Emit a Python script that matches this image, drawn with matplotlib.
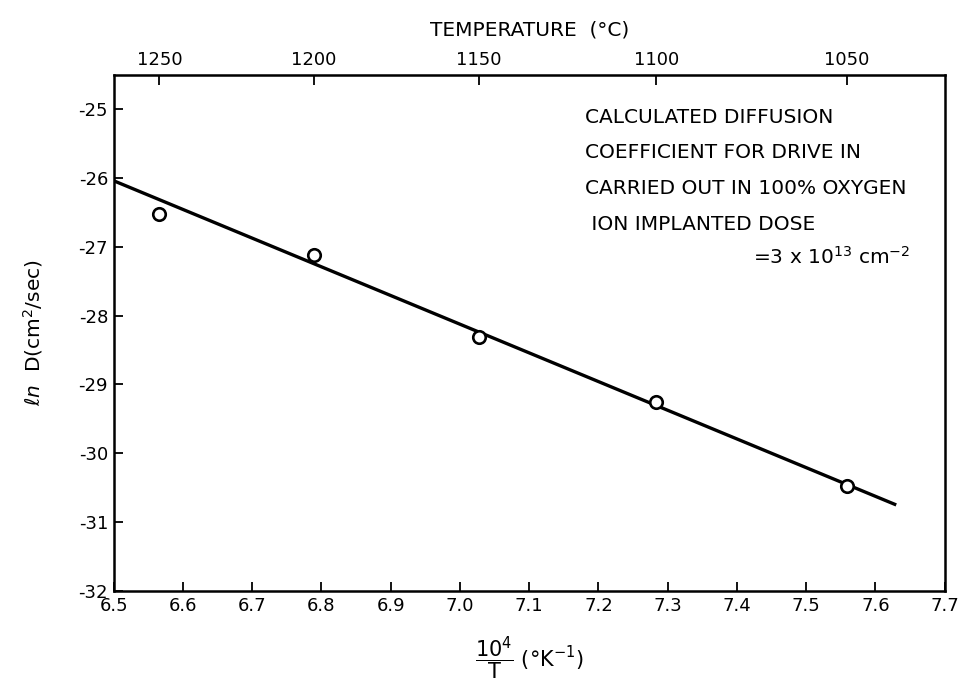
import matplotlib
matplotlib.use('Agg')
import matplotlib.pyplot as plt

# measured diffusion coefficients vs reciprocal temperature
inv_T = [6.566, 6.789, 7.027, 7.283, 7.559]          # 10^4/T  (1/K)
ln_D = [-26.53, -27.12, -28.31, -29.25, -30.48]      # ln D (cm^2/sec)

# least-squares line through the points, drawn between its end values
fit_x = [6.50, 7.63]
fit_y = [-26.04, -30.75]

x_ticks = [6.5, 6.6, 6.7, 6.8, 6.9, 7.0, 7.1, 7.2, 7.3, 7.4, 7.5, 7.6, 7.7]
x_ticklabels = ['6.5', '6.6', '6.7', '6.8', '6.9', '7.0', '7.1', '7.2', '7.3', '7.4', '7.5', '7.6', '7.7']
y_ticks = [-32, -31, -30, -29, -28, -27, -26, -25]
temp_ticks = [1250, 1200, 1150, 1100, 1050]          # deg C

note_lines = ['CALCULATED DIFFUSION',
              'COEFFICIENT FOR DRIVE IN',
              'CARRIED OUT IN 100% OXYGEN',
              ' ION IMPLANTED DOSE']
note_dose = r'=3 x 10$^{13}$ cm$^{-2}$'

plt.rcParams['axes.unicode_minus'] = False
plt.rcParams['font.family'] = 'DejaVu Sans'
plt.rcParams['mathtext.fontset'] = 'dejavusans'

fig = plt.figure(figsize=(9.63, 6.92), dpi=100)
ax = fig.add_axes([0.118, 0.146, 0.863, 0.746])

ax.plot(fit_x, fit_y, color='black', lw=2.4, solid_capstyle='butt')
ax.plot(inv_T, ln_D, 'o', ms=9, mfc='white', mec='black', mew=1.9)

ax.set_xlim(6.5, 7.7)
ax.set_ylim(-32, -24.5)
ax.set_xticks(x_ticks)
ax.set_xticklabels(x_ticklabels)
ax.set_yticks(y_ticks)
ax.tick_params(direction='in', length=6.5, width=1.3, labelsize=13, pad=4)
for s in ax.spines.values():
    s.set_linewidth(1.8)

# upper scale in deg C
def to_celsius(x):
    return 1e4 / x - 273.0

def to_inv(t):
    return 1e4 / (t + 273.0)

top = ax.secondary_xaxis('top', functions=(to_celsius, to_inv))
top.set_xticks(temp_ticks)
top.set_xticklabels([str(t) for t in temp_ticks])
top.tick_params(direction='in', length=7, width=1.3, labelsize=13, pad=4)
top.set_xlabel('TEMPERATURE  (°C)', fontsize=14.5, labelpad=11)

ax.set_xlabel(r'$\dfrac{10^4}{\mathrm{T}}$ (°K$^{-1}$)', fontsize=15, labelpad=14)
ax.set_ylabel(r'$\ell n$  D(cm$^2$/sec)', fontsize=14.5, labelpad=24)

note_y = [-25.12, -25.63, -26.16, -26.67]
for txt, yy in zip(note_lines, note_y):
    ax.text(7.18, yy, txt, fontsize=14.5, va='center', ha='left')
ax.text(7.423, -27.15, note_dose, fontsize=14.5, va='center', ha='left')

fig.savefig('out.png', dpi=100)
